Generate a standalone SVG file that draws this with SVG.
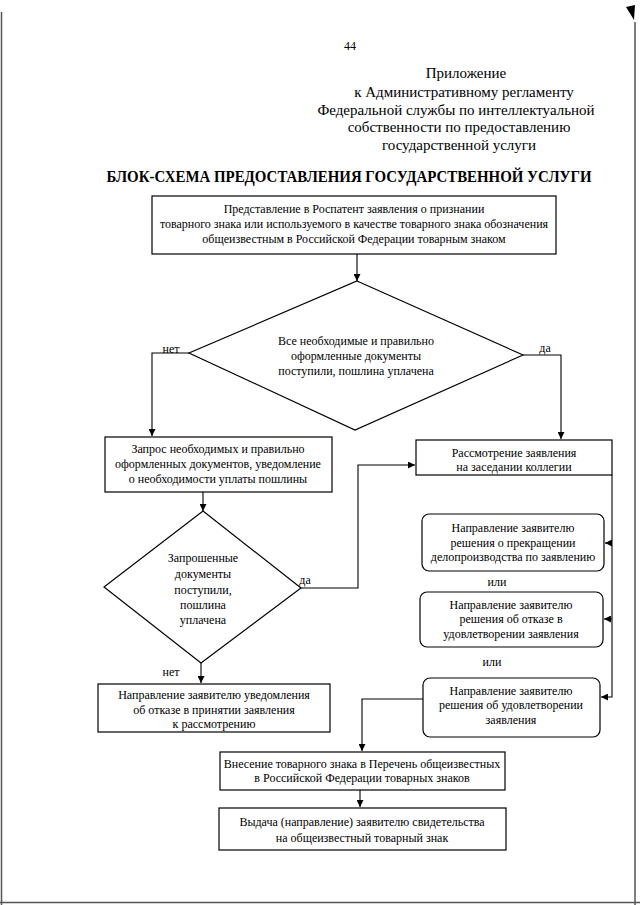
<svg xmlns="http://www.w3.org/2000/svg" width="640" height="905" viewBox="0 0 640 905" font-family="'Liberation Serif', 'DejaVu Serif', serif">
<defs>
<marker id="arr" viewBox="0 0 10 10" refX="10" refY="5" markerWidth="7" markerHeight="7" orient="auto" markerUnits="userSpaceOnUse">
<path d="M0,0 L10,5 L0,10 z" fill="#000"/>
</marker>
<style>
text{font-family:'Liberation Serif','Times New Roman','DejaVu Serif',serif;fill:#000}
.t{font-size:12px;text-anchor:middle}
.h{font-size:15px;text-anchor:middle}
.ttl{font-size:16px;font-weight:bold;text-anchor:middle}
.box{fill:#fff;stroke:#000;stroke-width:1.2}
.ar{fill:none;stroke:#000;stroke-width:1.1;marker-end:url(#arr)}
.edge{stroke:#555;stroke-width:1.5;fill:none}
</style>
</defs>
<rect width="640" height="905" fill="#fff"/>
<g id="page-edges">
<path class="edge" d="M1.5,12 V905"/>
<path class="edge" d="M0,902.5 H640"/>
<path class="edge" d="M635,22 V905"/>
<path d="M626,7 L635,5 L634,20 Z" fill="#000"/>
</g>
<g id="header">
<text x="350" y="50" font-size="12" text-anchor="middle">44</text>
<text class="h" x="466" y="78">Приложение</text>
<text class="h" x="464" y="97">к Административному регламенту</text>
<text class="h" x="456" y="115">Федеральной службы по интеллектуальной</text>
<text class="h" x="459" y="132">собственности по предоставлению</text>
<text class="h" x="459" y="150">государственной услуги</text>
<text class="ttl" x="349" y="182" textLength="485" lengthAdjust="spacingAndGlyphs">БЛОК-СХЕМА ПРЕДОСТАВЛЕНИЯ ГОСУДАРСТВЕННОЙ УСЛУГИ</text>
</g>
<g id="connectors">
<path class="ar" d="M357,254 V281"/>
<path class="ar" d="M189,353 H152 V436"/>
<path class="ar" d="M523,355 H561 V439"/>
<path class="ar" d="M203,492 V511"/>
<path class="ar" d="M301,588 H358 V465 H415"/>
<path class="ar" d="M201,663 V683"/>
<path class="ar" d="M612,475 V697 H601"/>
<path class="ar" d="M612,543 H605"/>
<path class="ar" d="M612,619 H604"/>
<path class="ar" d="M423,699 H362 V751"/>
<path class="ar" d="M360,790 V807"/>
<text class="t" x="171" y="353">нет</text>
<text class="t" x="545" y="352">да</text>
<text class="t" x="305" y="584">да</text>
<text class="t" x="171" y="676">нет</text>
<text class="t" x="497" y="586">или</text>
<text class="t" x="492" y="666">или</text>
</g>
<g id="n-start">
<rect class="box" x="152" y="196" width="404" height="58"/>
<text class="t" x="354" y="213">Представление в Роспатент заявления о признании</text>
<text class="t" x="354" y="228">товарного знака или используемого в качестве товарного знака обозначения</text>
<text class="t" x="354" y="243">общеизвестным в Российской Федерации товарным знаком</text>
</g>
<g id="n-check1">
<polygon class="box" points="357,281 523,355 355,430 189,353"/>
<text class="t" x="356" y="345">Все необходимые и правильно</text>
<text class="t" x="356" y="360">оформленные документы</text>
<text class="t" x="356" y="375">поступили, пошлина уплачена</text>
</g>
<g id="n-request">
<rect class="box" x="105" y="437" width="227" height="55"/>
<text class="t" x="218" y="453">Запрос необходимых и правильно</text>
<text class="t" x="218" y="468">оформленных документов, уведомление</text>
<text class="t" x="218" y="483">о необходимости уплаты пошлины</text>
</g>
<g id="n-check2">
<polygon class="box" points="203,511 301,588 201,663 104,587"/>
<text class="t" x="203" y="562">Запрошенные</text>
<text class="t" x="203" y="578">документы</text>
<text class="t" x="203" y="594">поступили,</text>
<text class="t" x="203" y="609">пошлина</text>
<text class="t" x="203" y="624">уплачена</text>
</g>
<g id="n-refuse-accept">
<rect class="box" x="98" y="684" width="232" height="48"/>
<text class="t" x="214" y="699">Направление заявителю уведомления</text>
<text class="t" x="214" y="714">об отказе в принятии заявления</text>
<text class="t" x="214" y="728">к рассмотрению</text>
</g>
<g id="n-review">
<rect class="box" x="416" y="440" width="196" height="35"/>
<text class="t" x="514" y="457">Рассмотрение заявления</text>
<text class="t" x="514" y="471">на заседании коллегии</text>
</g>
<g id="n-terminate">
<rect class="box" x="422" y="514" width="182" height="57" rx="7"/>
<text class="t" x="513" y="532">Направление заявителю</text>
<text class="t" x="513" y="547">решения о прекращении</text>
<text class="t" x="513" y="561">делопроизводства по заявлению</text>
</g>
<g id="n-reject">
<rect class="box" x="420" y="592" width="183" height="55" rx="7"/>
<text class="t" x="511" y="609">Направление заявителю</text>
<text class="t" x="511" y="623">решения об отказе в</text>
<text class="t" x="511" y="638">удовлетворении заявления</text>
</g>
<g id="n-grant">
<rect class="box" x="423" y="678" width="177" height="59" rx="7"/>
<text class="t" x="511" y="695">Направление заявителю</text>
<text class="t" x="511" y="709">решения об удовлетворении</text>
<text class="t" x="511" y="724">заявления</text>
</g>
<g id="n-register">
<rect class="box" x="220" y="752" width="285" height="38"/>
<text class="t" x="362" y="768">Внесение товарного знака в Перечень общеизвестных</text>
<text class="t" x="362" y="782">в Российской Федерации товарных знаков</text>
</g>
<g id="n-issue">
<rect class="box" x="219" y="808" width="287" height="42"/>
<text class="t" x="362" y="826">Выдача (направление) заявителю свидетельства</text>
<text class="t" x="362" y="842">на общеизвестный товарный знак</text>
</g>
</svg>
